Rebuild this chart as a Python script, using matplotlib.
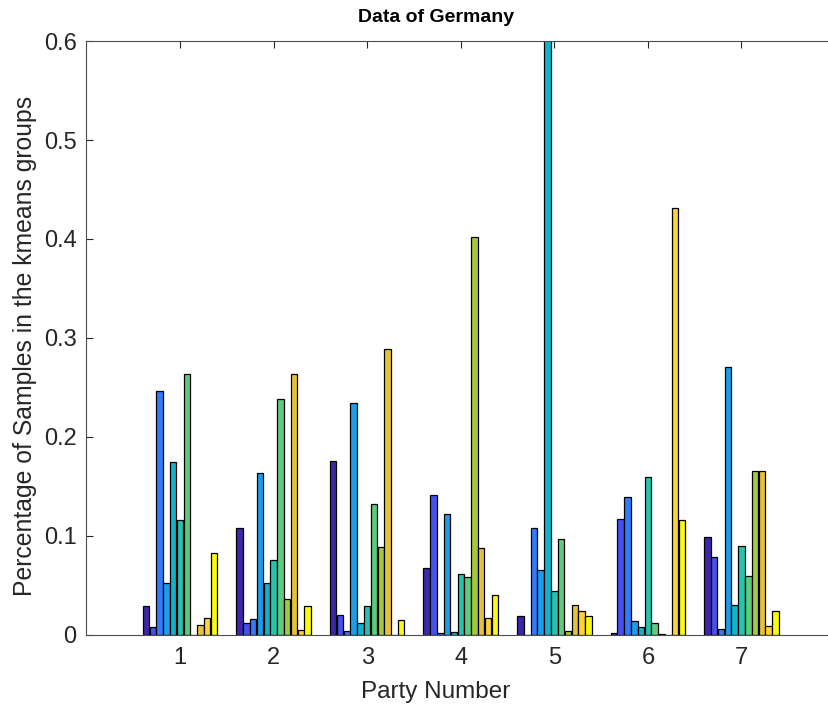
import numpy as np
import matplotlib
matplotlib.use("Agg")
import matplotlib.pyplot as plt
from matplotlib.colors import LinearSegmentedColormap

# share of samples per kmeans cluster (11 clusters) for each party
parties = [1, 2, 3, 4, 5, 6, 7]
share = [
    [0.029, 0.0075, 0.246, 0.052, 0.174, 0.116, 0.263, 0.0, 0.0098, 0.017, 0.082],
    [0.108, 0.012, 0.016, 0.163, 0.052, 0.075, 0.238, 0.036, 0.263, 0.005, 0.029],
    [0.175, 0.020, 0.004, 0.234, 0.0115, 0.029, 0.132, 0.088, 0.289, 0.0, 0.015],
    [0.067, 0.141, 0.0014, 0.122, 0.003, 0.061, 0.058, 0.402, 0.087, 0.0165, 0.040],
    [0.0185, 0.0, 0.108, 0.065, 0.65, 0.044, 0.097, 0.0035, 0.0295, 0.024, 0.0185],
    [0.002, 0.117, 0.139, 0.014, 0.008, 0.159, 0.012, 0.001, 0.0, 0.431, 0.116],
    [0.099, 0.078, 0.006, 0.271, 0.030, 0.090, 0.059, 0.165, 0.165, 0.0085, 0.024],
]

# rough parula colormap
parula_pts = [
    (0.2422, 0.1504, 0.6603), (0.2758, 0.3168, 0.9508), (0.2081, 0.4749, 0.9923),
    (0.1165, 0.6134, 0.9093), (0.0594, 0.7040, 0.7975), (0.1540, 0.7624, 0.6722),
    (0.3634, 0.8012, 0.4925), (0.6376, 0.7854, 0.2506), (0.9115, 0.7558, 0.2339),
    (0.9923, 0.8291, 0.1924), (0.9769, 0.9839, 0.0805),
]
parula = LinearSegmentedColormap.from_list("parula", parula_pts)

plt.rcParams['font.family'] = ['Liberation Sans', 'DejaVu Sans']

data = np.array(share)
n_grp, n_bar = data.shape
slot = 0.8 / n_bar
x = np.array(parties, dtype=float)

fig = plt.figure(figsize=(8.29, 7.08), dpi=100)
ax = fig.add_axes([0.1043, 0.1038, 0.903, 0.838])

for k in range(n_bar):
    offs = (k - (n_bar - 1) / 2) * slot
    ax.bar(x + offs, data[:, k], width=slot * 0.95, color=parula(k / (n_bar - 1)),
           edgecolor='black', linewidth=0.9, zorder=2)

ax.set_xlim(0, 8)
ax.set_ylim(0, 0.6)
ax.set_xticks(parties)
ax.set_yticks([0, 0.1, 0.2, 0.3, 0.4, 0.5, 0.6])
ax.set_yticklabels(['0', '0.1', '0.2', '0.3', '0.4', '0.5', '0.6'])
ax.tick_params(direction='in', top=True, right=True, length=5, width=0.8,
               color='#262626', labelsize=17, labelcolor='#262626')
ax.tick_params(axis='y', pad=7)
ax.tick_params(axis='x', pad=9)
for s in ax.spines.values():
    s.set_color('#4d4d4d')
    s.set_linewidth(0.8)

ax.set_xlabel('Party Number', fontsize=17.5, color='#262626')
ax.set_ylabel('Percentage of Samples in the kmeans groups', fontsize=17.8,
              color='#262626')
ax.xaxis.set_label_coords(0.467, -0.097)
ax.yaxis.set_label_coords(-0.082, 0.486)
ax.xaxis.label.set_va('center')
ax.yaxis.label.set_va('center')
fig.text(0.526, 0.9746, 'Data of Germany', fontsize=14, fontweight='bold',
         ha='center', va='center')

fig.savefig('out.png', dpi=100)
